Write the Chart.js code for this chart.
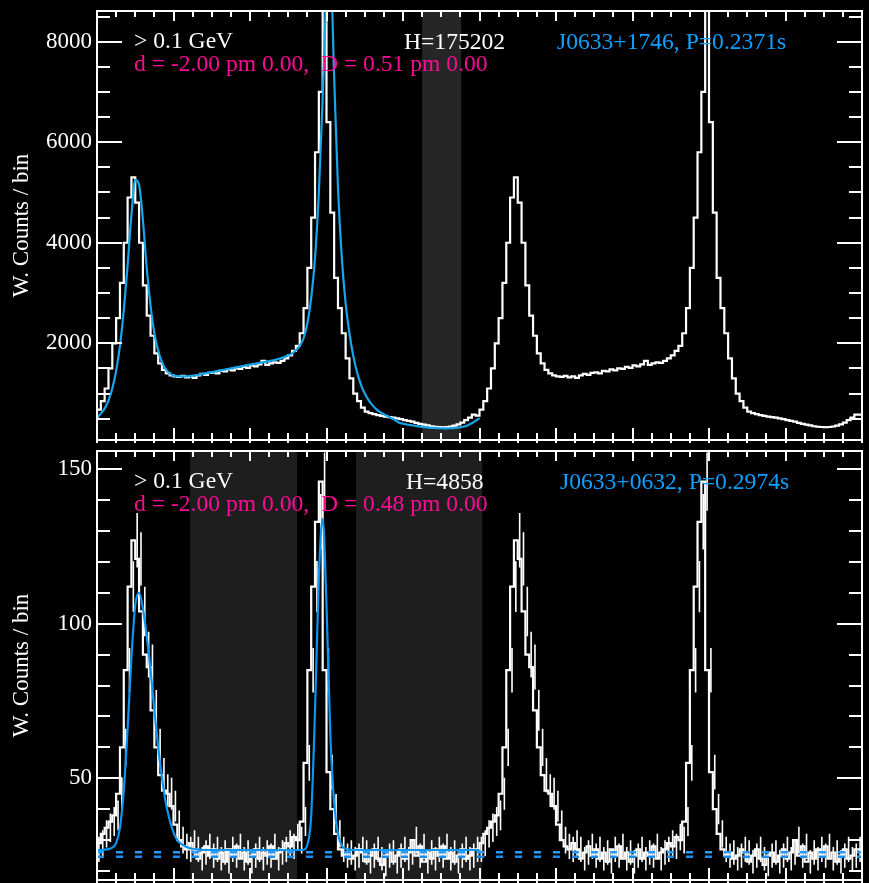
<!DOCTYPE html>
<html><head><meta charset="utf-8">
<script src="https://cdn.jsdelivr.net/npm/chart.js@4.4.1/dist/chart.umd.min.js"></script>
<style>
html,body{margin:0;padding:0;background:#000;}
#wrap{position:relative;width:869px;height:883px;background:#000;overflow:hidden;}
canvas{position:absolute;left:0;}
.lbl{position:absolute;font-family:'Liberation Serif','Times New Roman',serif;font-size:23.6px;white-space:pre;line-height:23px;}
.w{color:#ffffff}.m{color:#ff0a96}.b{color:#10a0ff}
</style></head><body>
<div id="wrap">
<canvas id="c1" width="869" height="446" style="top:0"></canvas>
<canvas id="c2" width="869" height="437" style="top:446px"></canvas>
<div class="lbl w" style="left:134px;top:29px">&gt; 0.1 GeV</div>
<div class="lbl m" style="left:134px;top:52px">d = -2.00 pm 0.00,  D = 0.51 pm 0.00</div>
<div class="lbl w" style="left:404px;top:30px">H=175202</div>
<div class="lbl b" style="left:557px;top:30px">J0633+1746, P=0.2371s</div>
<div class="lbl w" style="left:134px;top:469px">&gt; 0.1 GeV</div>
<div class="lbl m" style="left:134px;top:492px">d = -2.00 pm 0.00,  D = 0.48 pm 0.00</div>
<div class="lbl w" style="left:406px;top:470px">H=4858</div>
<div class="lbl b" style="left:560px;top:470px">J0633+0632, P=0.2974s</div>
</div>
<script>
// ---- data (one rotation, 100 phase bins; the plot shows two rotations) ----
const topProfile = [560,680,850,1100,1500,2000,2500,3200,4000,4900,
 5300,4800,4000,3150,2550,2150,1800,1600,1470,1400,
 1360,1340,1330,1350,1320,1340,1310,1360,1390,1370,
 1410,1420,1400,1450,1440,1480,1460,1500,1490,1530,
 1510,1560,1540,1580,1650,1570,1600,1620,1610,1650,
 1700,1760,1850,1950,2200,2700,3500,4500,5800,7000,
 8700,6400,4600,3300,2700,2200,1700,1300,1000,850,
 720,640,610,590,570,555,540,530,520,505,
 490,470,455,440,415,395,380,365,350,340,
 335,330,335,345,360,385,420,470,520,580];
const topFit = [510,600,700,860,1100,1450,1950,2650,3550,4550,
 5250,5150,4450,3500,2750,2200,1850,1620,1480,1400,
 1360,1345,1340,1340,1345,1355,1365,1380,1395,1410,
 1425,1440,1455,1470,1485,1500,1515,1530,1545,1560,
 1575,1590,1600,1615,1630,1645,1660,1680,1700,1725,
 1760,1800,1860,1950,2100,2400,2900,3700,5000,6900,
 9000,9500,7300,5100,3700,2800,2200,1750,1420,1180,
 1000,870,770,690,630,590,550,510,470,420,
 400,385,372,360,348,338,330,322,316,312,
 310,309,310,313,320,330,345,370,410,455,
 510];
const bottomProfile = [27,29,32,34,36,38,45,60,85,112,
 127,121,104,90,86,72,60,51,46,45,
 41,35,30,28,27,29,27,24,26,28,
 25,27,24,26,23,27,25,28,24,26,
 23,25,27,24,26,25,28,24,26,27,
 29,28,31,30,36,55,85,112,133,146,
 85,52,40,32,27,25,26,24,25,27,
 26,23,25,27,24,22,25,26,23,25,
 27,24,26,30,25,28,23,26,24,27,
 25,28,24,26,23,25,27,24,25,27];
const bottomErr = [4.1,4.2,4.4,4.6,4.7,4.8,5.2,6.0,7.2,8.2,
 8.8,8.6,8.0,7.4,7.3,6.6,6.0,5.6,5.3,5.2,
 5.0,4.6,4.3,4.1,4.1,4.2,4.1,3.8,4.0,4.1,
 3.9,4.1,3.8,4.0,3.8,4.1,3.9,4.1,3.8,4.0,
 3.8,3.9,4.1,3.8,4.0,3.9,4.1,3.8,4.0,4.1,
 4.2,4.1,4.3,4.3,4.7,5.8,7.2,8.3,9.0,9.4,
 7.2,5.6,4.9,4.4,4.1,3.9,4.0,3.8,3.9,4.1,
 4.0,3.8,3.9,4.1,3.8,3.7,3.9,4.0,3.8,3.9,
 4.1,3.8,4.0,4.3,3.9,4.1,3.8,4.0,3.8,4.1,
 3.9,4.1,3.8,4.0,3.8,3.9,4.1,3.8,3.9,4.1];
const bottomFit = [26.8,26.8,26.9,27.1,27.6,29,34,46,66,89,
 106,110,105,96,85,72,60,50,42,36.5,
 32.5,30,28.8,28,27.5,27.2,27,26.9,26.8,26.8,
 26.8,26.8,26.8,26.8,26.8,26.8,26.8,26.8,26.8,26.8,
 26.8,26.8,26.8,26.8,26.8,26.8,26.8,26.8,26.8,26.8,
 26.8,26.8,26.8,26.8,26.9,28.5,38,72,115,134,
 106,64,42,32,28.3,27.2,26.9,26.8,26.8,26.8,
 26.8,26.8,26.8,26.8,26.8,26.8,26.8,26.8,26.8,26.8,
 26.8,26.8,26.8,26.8,26.8,26.8,26.8,26.8,26.8,26.8,
 26.8,26.8,26.8,26.8,26.8,26.8,26.8,26.8,26.8,26.8,
 26.8];
const bottomBgLevels = [26.05, 24.6];
const topOffPulse = [[0.85, 0.952]];
const bottomOffPulse = [[0.243, 0.523], [0.677, 1.007]];
const nCycles = 2;
const topYRange = [76, 8610], topYStep = 500, topYMajor = 2000;
const bottomYRange = [17.1, 155.9], bottomYStep = 10, bottomYMajor = 50;
const xRange = [0, 2], xStep = 0.05, xMajorEvery = 4;

// ---- helpers ----
function stepPoints(cycle){
  const n = cycle.length, pts = [];
  for (let c = 0; c < nCycles; c++) cycle.forEach((v,i) => pts.push({x: c + i/n, y: v}));
  pts.push({x: nCycles, y: cycle[n-1]});
  return pts;
}
function errPoints(cycle, err){
  const n = cycle.length, pts = [];
  for (let c = 0; c < nCycles; c++) cycle.forEach((v,i) => {
    const xc = c + (i+0.5)/n;
    pts.push({x: xc, y: v - err[i]}, {x: xc, y: v + err[i]}, {x: xc, y: null});
  });
  return pts;
}
function fitPoints(fit){ return fit.map((v,j) => ({x: j/(fit.length-1), y: v})); }

const FONT = "'Liberation Serif','Times New Roman',serif";

const frameTicks = {
  id: 'frameTicks',
  beforeDatasetsDraw(chart, args, opts){
    const {ctx, chartArea: a, scales: {x}} = chart;
    ctx.save();
    ctx.fillStyle = opts.shadeColor;
    (opts.shade || []).forEach(([p0,p1]) => {
      const x0 = x.getPixelForValue(p0), x1 = x.getPixelForValue(p1);
      ctx.fillRect(x0, a.top, x1 - x0, a.bottom - a.top);
    });
    ctx.restore();
  },
  afterDatasetsDraw(chart, args, opts){
    const {ctx, chartArea: a, scales: {x, y}} = chart;
    ctx.save();
    ctx.strokeStyle = '#fff';
    ctx.lineWidth = 2;
    ctx.beginPath();
    y.ticks.forEach(t => {
      const py = Math.round(y.getPixelForValue(t.value));
      const L = (t.label !== '' && t.label != null) ? 25 : 13;
      ctx.moveTo(a.left, py); ctx.lineTo(a.left + L, py);
      ctx.moveTo(a.right, py); ctx.lineTo(a.right - L, py);
    });
    x.ticks.forEach((t, k) => {
      const px = Math.round(x.getPixelForValue(t.value));
      const major = k % xMajorEvery === 0;
      const L = major ? 12 : 7;
      ctx.moveTo(px, a.bottom + 3); ctx.lineTo(px, a.bottom - L);
      ctx.moveTo(px, a.top); ctx.lineTo(px, a.top + (major ? 10 : 6));
    });
    ctx.stroke();
    ctx.strokeRect(a.left, a.top, a.right - a.left, a.bottom - a.top);
    ctx.restore();
  }
};

function makeChart(id, datasets, yRange, yStep, yMajor, padTop, xAxisH, shade, shadeColor){
  return new Chart(document.getElementById(id), {
    type: 'line',
    data: { datasets },
    options: {
      responsive: false, animation: false,
      layout: { padding: { top: padTop, right: 7, left: 0, bottom: 0 } },
      elements: { point: { radius: 0 } },
      plugins: { legend: { display: false }, tooltip: { enabled: false },
        frameTicks: { shade, shadeColor } },
      scales: {
        x: {
          type: 'linear', min: xRange[0], max: xRange[1],
          grid: { display: false, drawTicks: false }, border: { display: false },
          ticks: { display: false },
          afterBuildTicks: s => {
            const t = [];
            const n = Math.round((xRange[1]-xRange[0]) / xStep);
            for (let k = 0; k <= n; k++) t.push({ value: +(xRange[0] + k*xStep).toFixed(4) });
            s.ticks = t;
          },
          afterFit: s => { s.height = xAxisH; s.paddingLeft = 0; s.paddingRight = 0; }
        },
        y: {
          type: 'linear', min: yRange[0], max: yRange[1],
          grid: { display: false, drawTicks: false }, border: { display: false },
          ticks: {
            color: '#fff', autoSkip: false, padding: 5,
            font: { family: FONT, size: 23 },
            callback: v => (v % yMajor === 0 ? String(v) : '')
          },
          afterBuildTicks: s => {
            const t = [];
            for (let v = Math.ceil(yRange[0]/yStep)*yStep; v <= yRange[1]; v += yStep) t.push({ value: v });
            s.ticks = t;
          },
          afterFit: s => { s.width = 97; s.paddingTop = 0; s.paddingBottom = 0; },
          title: { display: true, text: 'W. Counts / bin', color: '#fff',
            font: { family: FONT, size: 23 }, padding: { top: 8, bottom: 0 } }
        }
      }
    },
    plugins: [frameTicks]
  });
}

makeChart('c1', [
  { data: fitPoints(topFit), borderColor: '#18a6ea', borderWidth: 2.2, cubicInterpolationMode: 'monotone', order: 0 },
  { data: stepPoints(topProfile), borderColor: '#ffffff', borderWidth: 2.2, stepped: 'after', order: 3 }
], topYRange, topYStep, topYMajor, 11, 6, topOffPulse, '#262626');

makeChart('c2', [
  { data: fitPoints(bottomFit), borderColor: '#0d95f0', borderWidth: 2.2, cubicInterpolationMode: 'monotone', order: 0 },
  { data: [{x: xRange[0], y: bottomBgLevels[0]}, {x: xRange[1], y: bottomBgLevels[0]}], borderColor: '#2a9cff', borderWidth: 2.5, borderDash: [7, 12], order: 1 },
  { data: [{x: xRange[0], y: bottomBgLevels[1]}, {x: xRange[1], y: bottomBgLevels[1]}], borderColor: '#1a8cf0', borderWidth: 2.5, borderDash: [7, 12], order: 1 },
  { data: errPoints(bottomProfile, bottomErr), borderColor: '#ffffff', borderWidth: 1.6, spanGaps: false, order: 2 },
  { data: stepPoints(bottomProfile), borderColor: '#ffffff', borderWidth: 2.2, stepped: 'after', order: 3 }
], bottomYRange, bottomYStep, bottomYMajor, 5, 3, bottomOffPulse, '#1e1e1e');
</script>
</body></html>
